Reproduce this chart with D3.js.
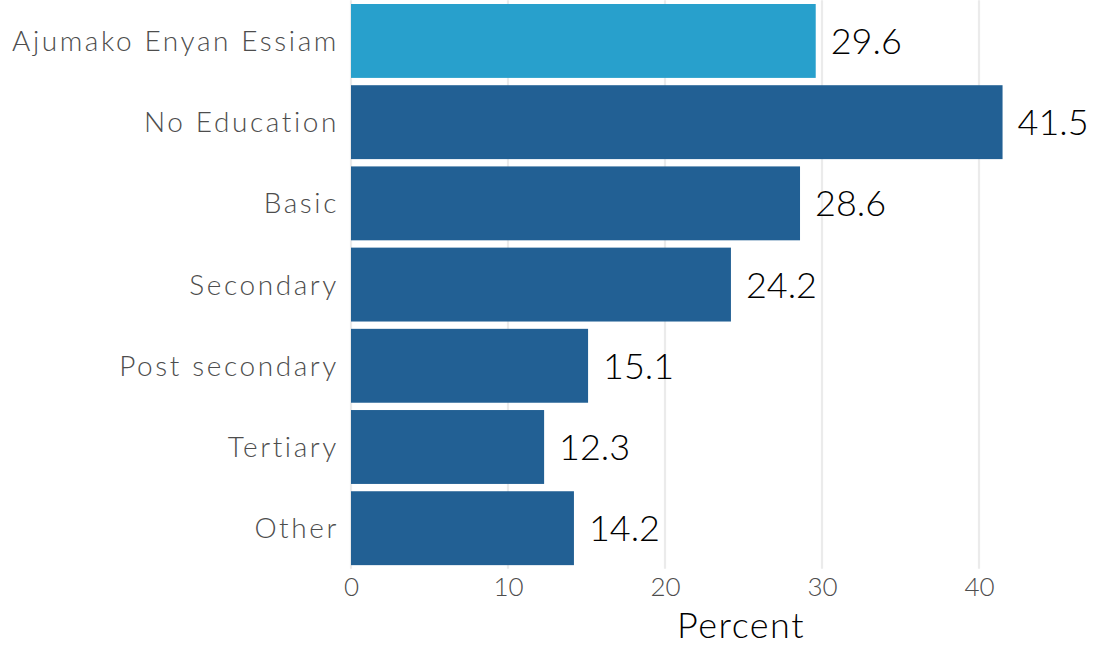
<!DOCTYPE html>
<html lang="en">
<head>
<meta charset="UTF-8">
<title>Education</title>
<script src="https://d3js.org/d3.v7.min.js"></script>
<style>
  body { margin: 0; background: #fff; }
  svg text { font-family: "Lato", sans-serif; font-weight: 300; }
</style>
</head>
<body>
<div id="chart"></div>
<script>
    // data
    var categories = ["Ajumako Enyan Essiam", "No Education", "Basic", "Secondary", "Post secondary", "Tertiary", "Other"]
    var values = [29.6, 41.5, 28.6, 24.2, 15.1, 12.3, 14.2]
    var highlight = ["Ajumako Enyan Essiam"]
    var ticks = [0, 10, 20, 30, 40]

    var width = 1095
    var height = 646
    var svg = d3.select("#chart")
      .append("svg")
        .attr("width", width)
        .attr("height", height)

    // x scale: 0 at 351, 40 at 979
    var x = d3.scaleLinear()
      .domain([0, 40])
      .range([351, 979])

    var y = d3.scaleBand()
      .domain(categories)
      .range([0.35, 568.8])
      .paddingInner(0.09)
      .paddingOuter(0.045)

    // gridlines
    svg.append("g")
      .selectAll("line")
      .data(ticks)
      .enter()
      .append("line")
        .attr("x1", function(d){ return x(d) })
        .attr("x2", function(d){ return x(d) })
        .attr("y1", 0.35)
        .attr("y2", 568.8)
        .attr("stroke", "#ebebeb")
        .attr("stroke-width", 2.2)

    // bars
    svg.append("g")
      .selectAll("rect")
      .data(values)
      .enter()
      .append("rect")
        .attr("x", x(0))
        .attr("y", function(d, i){ return y(categories[i]) })
        .attr("width", function(d){ return x(d) - x(0) })
        .attr("height", y.bandwidth())
        .attr("fill", function(d, i){ return highlight.includes(categories[i]) ? "#28a0cc" : "#226094" })

    // value labels
    svg.append("g")
      .selectAll("text")
      .data(values)
      .enter()
      .append("text")
        .attr("x", function(d){ return x(d) + 15 })
        .attr("y", function(d, i){ return y(categories[i]) + y.bandwidth() / 2 })
        .attr("dy", "0.36em")
        .attr("font-size", 36)
        .attr("fill", "#000")
        .text(function(d){ return d.toFixed(1) })

    // y axis labels
    var yAxis = svg.append("g")
      .attr("transform", "translate(" + x(0) + ",0)")
      .call(d3.axisLeft(y).tickSize(0).tickPadding(12))
    yAxis.select(".domain").remove()
    yAxis.selectAll("text")
      .attr("font-size", 28)
      .attr("letter-spacing", "2.6px")
      .attr("fill", "#4d4d4d")
      .attr("dy", "0.36em")

    // x axis labels
    var xAxis = svg.append("g")
      .attr("transform", "translate(0," + 568.8 + ")")
      .call(d3.axisBottom(x).tickValues(ticks).tickSize(0).tickPadding(9))
    xAxis.select(".domain").remove()
    xAxis.selectAll("text")
      .attr("font-size", 26)
      .attr("fill", "#4d4d4d")

    // x title
    svg.append("text")
      .attr("x", (x(0) + x(40)) / 2 + 76)
      .attr("y", 638)
      .attr("text-anchor", "middle")
      .attr("font-size", 36)
      .attr("letter-spacing", "1.5px")
      .attr("fill", "#000")
      .text("Percent")
</script>
</body>
</html>
